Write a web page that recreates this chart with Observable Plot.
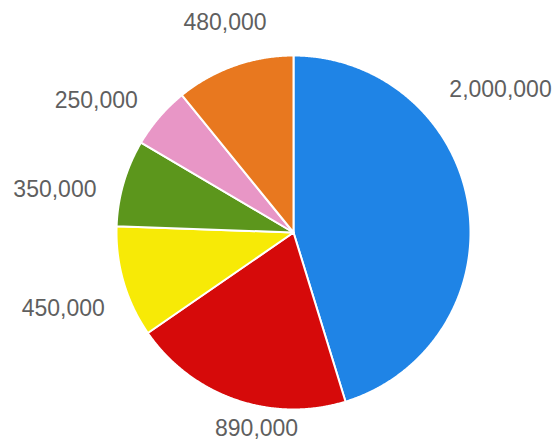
<!DOCTYPE html>
<html><head><meta charset="utf-8">
<script src="https://cdn.jsdelivr.net/npm/d3@7"></script>
<script src="https://cdn.jsdelivr.net/npm/@observablehq/plot@0.6"></script>
<style>body{margin:0;background:#fff}</style>
</head><body><div id="chart"></div>
<script>
// Data (clockwise from 12 o'clock)
const labels = ["2,000,000", "890,000", "450,000", "350,000", "250,000", "480,000"];
const values = [2000000, 890000, 450000, 350000, 250000, 480000];
const colors = ["#1f84e6", "#d60a0a", "#f7ea06", "#5c961c", "#e896c6", "#e8781f"];

// Label placement tweaks (degrees from slice middle, radius in pie radii)
const labelShift = [-26, -8.5, -2, -6, -7, 1.5];
const labelRadius = [1.42, 1.13, 1.37, 1.37, 1.34, 1.25];

const arcs = d3.pie().sort(null).value(d => d)(values);
const slicePts = [];
arcs.forEach((a, i) => {
  slicePts.push({k: i, x: 0, y: 0});
  const n = Math.max(2, Math.ceil((a.endAngle - a.startAngle) / 0.005));
  for (let j = 0; j <= n; j++) {
    const t = a.startAngle + (a.endAngle - a.startAngle) * j / n;
    slicePts.push({k: i, x: Math.sin(t), y: Math.cos(t)});
  }
  slicePts.push({k: i, x: 0, y: 0});
});
const labelPts = arcs.map((a, i) => {
  const t = (a.startAngle + a.endAngle) / 2 + labelShift[i] * Math.PI / 180;
  return {text: labels[i], x: labelRadius[i] * Math.sin(t), y: labelRadius[i] * Math.cos(t)};
});

const R = 177;
const chart = Plot.plot({
  width: 560, height: 448,
  margin: 0,
  x: {domain: [-293 / R, 267 / R], axis: null},
  y: {domain: [-216 / R, 232 / R], axis: null},
  color: {domain: d3.range(values.length), range: colors},
  style: {background: "#fff"},
  marks: [
    Plot.line(slicePts, {x: "x", y: "y", z: "k", fill: "k", stroke: "#fff", strokeWidth: 2, strokeLinejoin: "round", curve: "linear"}),
    Plot.text(labelPts, {x: "x", y: "y", text: "text", fontSize: 23, fill: "#5f5f5f", fontFamily: "Liberation Sans, Arial, sans-serif"})
  ]
});
document.getElementById("chart").appendChild(chart);
</script>
</body></html>
